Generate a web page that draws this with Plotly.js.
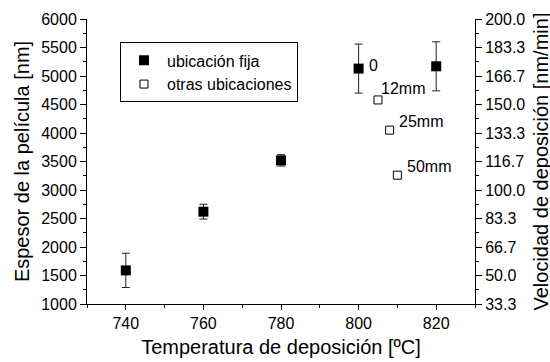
<!DOCTYPE html>
<html>
<head>
<meta charset="utf-8">
<script src="https://cdn.plot.ly/plotly-3.0.1.min.js"></script>
<style>html,body{margin:0;padding:0;background:#fff;}#chart{width:550px;height:362px;}</style>
</head>
<body>
<div id="chart"></div>
<script>
// Data
var tempFija = [740, 760, 780, 800, 820];
var espesorFija = [1590, 2620, 3520, 5130, 5170];
var errorFija = [300, 130, 100, 430, 430];
var labelsFija = ["", "", "", "0", ""];

var tempOtras = [805, 808, 810];
var espesorOtras = [4580, 4050, 3260];
var labelsOtras = ["12mm", "25mm", "50mm"];

var seriesNames = ["ubicación fija", "otras ubicaciones"];
var xTitle = "Temperatura de deposición [ºC]";
var yTitle = "Espesor de la película [nm]";
var y2Title = "Velocidad de deposición [nm/min]";

var xTicks = [740, 760, 780, 800, 820];
var yTicks = [1000, 1500, 2000, 2500, 3000, 3500, 4000, 4500, 5000, 5500, 6000];
var y2TickLabels = ["33.3", "50.0", "66.7", "83.3", "100.0", "116.7", "133.3", "150.0", "166.7", "183.3", "200.0"];
var ratio = 30; // nm per (nm/min) scale factor between axes

var FONT = "'Liberation Sans', Arial, sans-serif";

var traces = [
  {
    x: tempFija, y: espesorFija, type: "scatter", mode: "markers",
    name: seriesNames[0],
    marker: {symbol: "square", size: 10, color: "#000"},
    error_y: {type: "data", array: errorFija, visible: true, color: "#222", thickness: 1, width: 4}
  },
  {
    x: tempOtras, y: espesorOtras, type: "scatter", mode: "markers",
    name: seriesNames[1],
    marker: {symbol: "square-open", size: 8, color: "#000", line: {width: 1}}
  },
  {
    x: [null], y: [null], yaxis: "y2", type: "scatter", mode: "markers",
    showlegend: false, hoverinfo: "skip"
  }
];

var annotations = [];
var shiftsFija = [[0,0],[0,0],[0,0],[8,3],[0,0]];
tempFija.forEach(function(t, i){
  if (labelsFija[i]) annotations.push({x: t, y: espesorFija[i], xref: "x", yref: "y",
    text: labelsFija[i], showarrow: false, xanchor: "left", yanchor: "middle",
    xshift: shiftsFija[i][0], yshift: shiftsFija[i][1], font: {family: FONT, size: 16, color: "#000"}});
});
var shiftsOtras = [[1, 11], [7, 9], [8, 9]];
tempOtras.forEach(function(t, i){
  annotations.push({x: t, y: espesorOtras[i], xref: "x", yref: "y",
    text: labelsOtras[i], showarrow: false, xanchor: "left", yanchor: "middle",
    xshift: shiftsOtras[i][0], yshift: shiftsOtras[i][1], font: {family: FONT, size: 16, color: "#000"}});
});
// right axis title
annotations.push({x: 1, y: 0.5, xref: "paper", yref: "paper", text: y2Title,
  textangle: -90, showarrow: false, xanchor: "center", yanchor: "middle", xshift: 65,
  font: {family: FONT, size: 20, color: "#000"}});

var y2Vals = yTicks.map(function(v){ return v / ratio; });
var y2Minor = y2Vals.slice(0, -1).map(function(v, i){ return (v + y2Vals[i+1]) / 2; });

var layout = {
  width: 550, height: 362,
  margin: {l: 87, r: 75, t: 19, b: 58, pad: 0},
  paper_bgcolor: "#fff", plot_bgcolor: "#fff",
  font: {family: FONT, size: 16, color: "#000"},
  showlegend: true,
  legend: {x: 0.085, y: 0.918, xanchor: "left", yanchor: "top",
    bordercolor: "#000", borderwidth: 1, bgcolor: "#fff",
    font: {family: FONT, size: 16, color: "#000"}, tracegroupgap: 0, itemwidth: 36},
  xaxis: {
    range: [730, 830], tickvals: xTicks, ticks: "outside", ticklen: 5, tickwidth: 1,
    tickcolor: "#000", showline: true, linecolor: "#000", linewidth: 1,
    showgrid: false, zeroline: false, mirror: false,
    minor: {dtick: 10, ticks: "outside", ticklen: 3, tickcolor: "#000"},
    tickfont: {family: FONT, size: 16},
    title: {text: xTitle, font: {family: FONT, size: 20}, standoff: 8}
  },
  yaxis: {
    range: [1000, 6000], tickvals: yTicks, ticks: "outside", ticklen: 6, tickwidth: 1,
    tickcolor: "#000", showline: true, linecolor: "#000", linewidth: 1,
    showgrid: false, zeroline: false,
    minor: {dtick: 250, ticks: "outside", ticklen: 3, tickcolor: "#000"},
    tickfont: {family: FONT, size: 16},
    title: {text: yTitle, font: {family: FONT, size: 20}, standoff: 6}
  },
  yaxis2: {
    overlaying: "y", side: "right",
    range: [1000 / ratio, 6000 / ratio],
    tickvals: y2Vals, ticktext: y2TickLabels,
    ticks: "outside", ticklen: 6, tickwidth: 1, tickcolor: "#000",
    showline: true, linecolor: "#000", linewidth: 1,
    showgrid: false, zeroline: false,
    minor: {tickvals: y2Minor, ticks: "outside", ticklen: 3, tickcolor: "#000"},
    tickfont: {family: FONT, size: 16}
  },
  annotations: annotations
};

Plotly.newPlot("chart", traces, layout, {displayModeBar: false, staticPlot: true});
</script>
</body>
</html>
